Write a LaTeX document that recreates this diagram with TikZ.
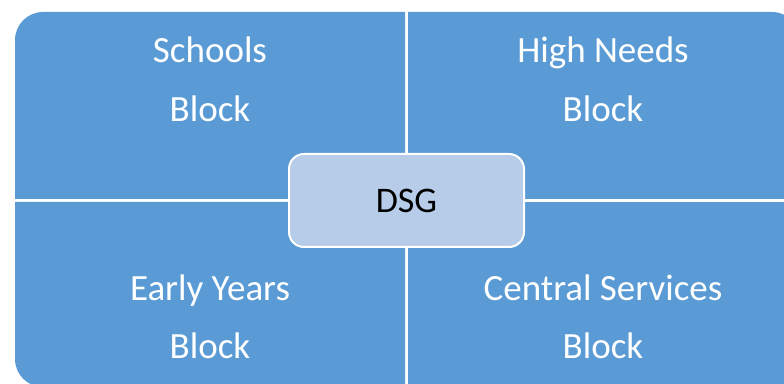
\documentclass[tikz,border=0pt]{standalone}
\usepackage{fontspec}
\setmainfont{Carlito}
\definecolor{quad}{RGB}{91,155,213}
\definecolor{centre}{RGB}{183,204,233}
\begin{document}
\begin{tikzpicture}[x=1pt,y=1pt,
  qfill/.style={fill=quad},
  lbl/.style={anchor=base,text=white,inner sep=0pt,font=\fontsize{37}{44}\selectfont},
  centrebox/.style={fill=centre,draw=white,line width=2pt,rounded corners=15pt,
    minimum width=235pt,minimum height=93pt,inner sep=0pt,font=\fontsize{36}{42}\selectfont}]
\useasboundingbox (0,0) rectangle (784,383);
\begin{scope}
\clip (0,0) rectangle (784,383);
% top-left
\fill[qfill] (405,184) -- (15,184) -- (15,343) arc[start angle=180,end angle=90,radius=28] -- (405,371) -- cycle;
% top-right
\fill[qfill] (408,184) -- (408,371) -- (772,371) arc[start angle=90,end angle=0,radius=28] -- (800,184) -- cycle;
% bottom-left
\fill[qfill] (405,181) -- (15,181) -- (15,24) arc[start angle=180,end angle=270,radius=28] -- (405,-4) -- cycle;
% bottom-right
\fill[qfill] (408,181) -- (800,181) -- (800,-4) -- (408,-4) -- cycle;
\end{scope}
\node[lbl] (s1) at (210,320) {Schools};
\node[lbl] (s2) at (210,261) {Block};
\node[lbl] (h1) at (603,320) {High Needs};
\node[lbl] (h2) at (603,261) {Block};
\node[lbl] (e1) at (210,82) {Early Years};
\node[lbl] (e2) at (210,25) {Block};
\node[lbl] (c1) at (603,82) {Central Services};
\node[lbl] (c2) at (603,25) {Block};
\node[centrebox] (dsg) at (406.5,182.5) {DSG};
\end{tikzpicture}
\end{document}
